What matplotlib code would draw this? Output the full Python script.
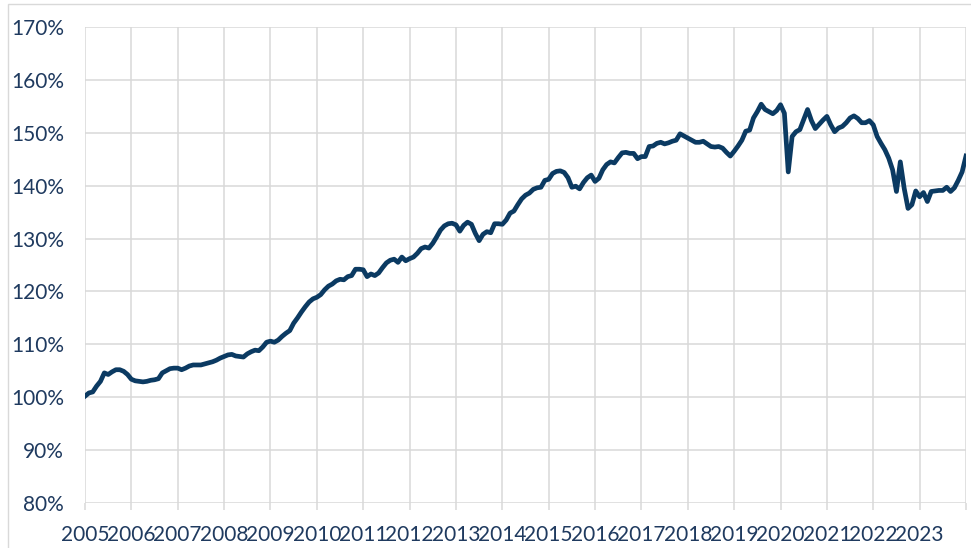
import matplotlib.pyplot as plt
import numpy as np
from matplotlib.patches import Rectangle

# monthly index values (%), Jan 2005 .. Dec 2023, plus Jan 2024
v2005 = [100.2, 100.8, 101.0, 102.1, 103.0, 104.6, 104.3, 104.8, 105.2, 105.2, 104.9, 104.3]
v2006 = [103.4, 103.1, 103.0, 102.9, 103.0, 103.2, 103.3, 103.5, 104.6, 105.0, 105.4, 105.5]
v2007 = [105.5, 105.2, 105.5, 105.9, 106.1, 106.1, 106.1, 106.3, 106.5, 106.7, 107.0, 107.4]
v2008 = [107.7, 108.0, 108.1, 107.8, 107.7, 107.6, 108.2, 108.6, 108.9, 108.8, 109.5, 110.4]
v2009 = [110.6, 110.4, 110.8, 111.5, 112.1, 112.6, 114.0, 115.0, 116.1, 117.1, 118.0, 118.6]
v2010 = [118.9, 119.4, 120.3, 121.0, 121.4, 122.0, 122.3, 122.2, 122.8, 123.0, 124.2, 124.2]
v2011 = [124.1, 122.8, 123.3, 123.0, 123.5, 124.5, 125.4, 125.9, 126.1, 125.5, 126.5, 125.8]
v2012 = [126.2, 126.5, 127.2, 128.1, 128.4, 128.2, 129.1, 130.3, 131.6, 132.4, 132.8, 132.9]
v2013 = [132.6, 131.4, 132.5, 133.1, 132.7, 131.0, 129.6, 130.8, 131.3, 131.1, 132.8, 132.8]
v2014 = [132.7, 133.5, 134.8, 135.2, 136.4, 137.5, 138.2, 138.6, 139.3, 139.6, 139.7, 141.0]
v2015 = [141.2, 142.3, 142.7, 142.8, 142.5, 141.5, 139.7, 139.9, 139.4, 140.6, 141.5, 142.0]
v2016 = [140.8, 141.4, 143.0, 144.0, 144.5, 144.3, 145.3, 146.2, 146.3, 146.1, 146.1, 145.1]
v2017 = [145.5, 145.5, 147.4, 147.5, 148.0, 148.2, 147.9, 148.1, 148.4, 148.6, 149.8, 149.4]
v2018 = [149.0, 148.6, 148.2, 148.2, 148.4, 147.9, 147.4, 147.3, 147.4, 147.1, 146.3, 145.6]
v2019 = [146.5, 147.5, 148.6, 150.3, 150.5, 152.8, 154.0, 155.4, 154.4, 154.0, 153.6, 154.2]
v2020 = [155.3, 153.7, 142.6, 149.3, 150.2, 150.6, 152.5, 154.4, 152.3, 150.8, 151.6, 152.4]
v2021 = [153.1, 151.5, 150.2, 150.9, 151.2, 151.9, 152.8, 153.2, 152.7, 151.9, 151.9, 152.3]
v2022 = [151.5, 149.3, 148.0, 146.8, 145.2, 143.0, 138.9, 144.5, 139.5, 135.7, 136.4, 139.0]
v2023 = [137.9, 138.7, 137.0, 138.9, 139.0, 139.1, 139.1, 139.7, 138.9, 139.6, 141.0, 142.6]
v2024 = [145.6]

years = list(range(2005, 2024))
values = (v2005 + v2006 + v2007 + v2008 + v2009 + v2010 + v2011 + v2012 + v2013 + v2014
          + v2015 + v2016 + v2017 + v2018 + v2019 + v2020 + v2021 + v2022 + v2023 + v2024)
months = np.arange(len(values))

navy = '#0B3A62'
txt = '#1F3A5F'
grid = '#D9D9D9'

plt.rcParams['font.family'] = ['Lato', 'DejaVu Sans']

fig = plt.figure(figsize=(9.71, 5.48), dpi=100)
fig.set_facecolor('white')
ax = fig.add_axes([85 / 971, 1 - 503 / 548, (966 - 85) / 971, (503 - 27) / 548])

ax.plot(months, values, color=navy, lw=3.4, solid_joinstyle='round', zorder=3)

ax.set_xlim(0, 12 * len(years))
ax.set_ylim(80, 170)
ax.set_xticks(np.arange(0, 12 * len(years) + 1, 12))
ax.set_xticklabels([str(y) for y in years] + [''])
ax.set_yticks(np.arange(80, 171, 10))
ax.set_yticklabels(['%d%%' % y for y in range(80, 171, 10)])

ax.grid(True, color=grid, lw=1.1)
ax.set_axisbelow(True)
for s in ax.spines.values():
    s.set_visible(False)
ax.tick_params(axis='x', length=5, width=1.1, color=grid, pad=11, labelsize=15, labelcolor=txt)
ax.tick_params(axis='y', length=0, pad=15, labelsize=15, labelcolor=txt)

# chart border (Excel style)
fig.patches.append(Rectangle((8 / 971, -0.02), 1.1, 1 - 4 / 548 + 0.02, transform=fig.transFigure,
                             fill=False, edgecolor=grid, lw=1))

fig.savefig('out.png', dpi=100)
